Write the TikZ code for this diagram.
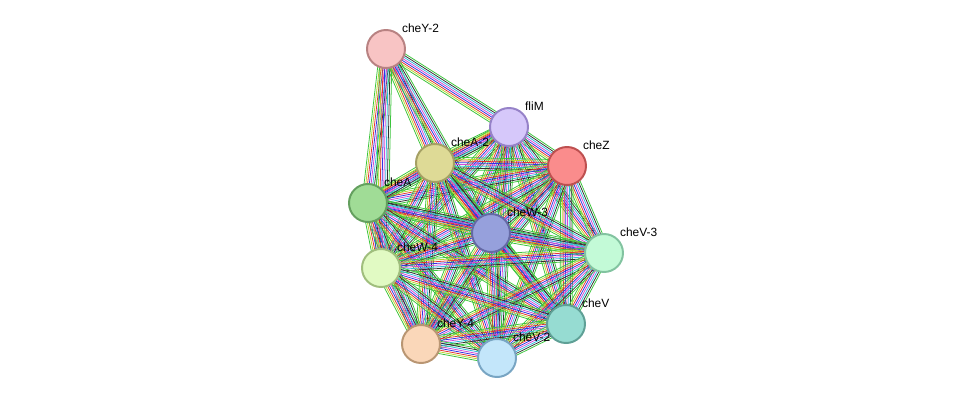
\documentclass[tikz,border=0pt]{standalone}
\usepackage{fontspec}
\setmainfont{Liberation Sans}
\usetikzlibrary{calc,positioning}
\definecolor{cgreen}{HTML}{3CC43C}
\definecolor{cblue}{HTML}{3333E6}
\definecolor{cred}{HTML}{E63333}
\definecolor{cmag}{HTML}{D448D4}
\definecolor{ccyan}{HTML}{33BBDD}
\definecolor{cyell}{HTML}{B8D630}
\definecolor{cblack}{HTML}{333333}
\newcommand{\bundle}[2]{%
    \foreach \c [count=\k] in {cgreen,cyell,cred,cblue,cmag,ccyan,cblack,cgreen} {
        \pgfmathsetmacro{\o}{(\k-4.5)*1.25}
        \draw[ln, \c] ($(#1)!\o pt!90:(#2)$) -- ($(#2)!\o pt!-90:(#1)$);
    }}

\begin{document}
\begin{tikzpicture}[
    x = 0.025cm,
    y = -0.025cm,
    prot/.style={circle, draw, line width=1.4pt, minimum size=0.95cm, inner sep=0pt,
        label={[font=\fontsize{8.5}{10}\selectfont, label distance=-3pt]45:#1}},
    ln/.style={line width=0.55pt}
]
    \useasboundingbox (0,0) rectangle (976,404);
    % positions
    \coordinate (y2) at (386,49);
    \coordinate (fm) at (509,127);
    \coordinate (cz) at (567,166);
    \coordinate (a2) at (435,163);
    \coordinate (ca) at (368,203);
    \coordinate (w3) at (491,233);
    \coordinate (v3) at (604,253);
    \coordinate (w4) at (381,268);
    \coordinate (cv) at (566,324);
    \coordinate (y4) at (421,344);
    \coordinate (v2) at (497,358);

    % edges
    \foreach \s/\t in {y2/fm, y2/a2, y2/ca, y2/w4, y2/w3} {\bundle{\s}{\t}}
    \foreach \s/\t in {fm/cz, fm/a2, fm/ca, fm/w3, fm/v3, fm/w4, fm/cv, fm/y4, fm/v2,
        cz/a2, cz/ca, cz/w3, cz/v3, cz/w4, cz/cv, cz/y4, cz/v2,
        a2/ca, a2/w3, a2/v3, a2/w4, a2/cv, a2/y4, a2/v2,
        ca/w3, ca/v3, ca/w4, ca/cv, ca/y4, ca/v2,
        w3/v3, w3/w4, w3/cv, w3/y4, w3/v2,
        v3/w4, v3/cv, v3/y4, v3/v2,
        w4/cv, w4/y4, w4/v2,
        cv/y4, cv/v2, y4/v2} {\bundle{\s}{\t}}

    % proteins
    \node[prot=cheY-2, fill={rgb,255:red,248;green,196;blue,196}, draw={rgb,255:red,184;green,130;blue,130}] (cheY2) at (y2) {};
    \node[prot=fliM, fill={rgb,255:red,214;green,200;blue,250}, draw={rgb,255:red,150;green,130;blue,200}] (fliM) at (fm) {};
    \node[prot=cheZ, fill={rgb,255:red,250;green,140;blue,140}, draw={rgb,255:red,190;green,80;blue,80}] (cheZ) at (cz) {};
    \node[prot=cheA-2, fill={rgb,255:red,222;green,218;blue,150}, draw={rgb,255:red,165;green,160;blue,100}] (cheA2) at (a2) {};
    \node[prot=cheA, fill={rgb,255:red,160;green,220;blue,150}, draw={rgb,255:red,100;green,160;blue,95}] (cheA) at (ca) {};
    \node[prot=cheW-3, fill={rgb,255:red,150;green,160;blue,220}, draw={rgb,255:red,100;green,105;blue,165}] (cheW3) at (w3) {};
    \node[prot=cheV-3, fill={rgb,255:red,195;green,250;blue,215}, draw={rgb,255:red,130;green,195;blue,160}] (cheV3) at (v3) {};
    \node[prot=cheW-4, fill={rgb,255:red,225;green,250;blue,195}, draw={rgb,255:red,160;green,190;blue,125}] (cheW4) at (w4) {};
    \node[prot=cheV, fill={rgb,255:red,150;green,220;blue,210}, draw={rgb,255:red,95;green,160;blue,150}] (cheV) at (cv) {};
    \node[prot=cheY-4, fill={rgb,255:red,250;green,215;blue,185}, draw={rgb,255:red,185;green,150;blue,115}] (cheY4) at (y4) {};
    \node[prot=cheV-2, fill={rgb,255:red,195;green,230;blue,250}, draw={rgb,255:red,120;green,165;blue,195}] (cheV2) at (v2) {};
\end{tikzpicture}
\end{document}
